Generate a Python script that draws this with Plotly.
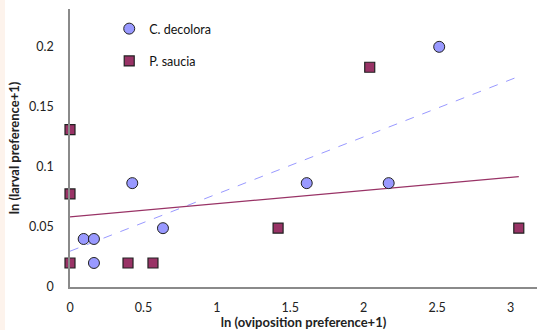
import numpy as np
import plotly.graph_objects as go

# C. decolora
dec_x = [0.093, 0.163, 0.163, 0.424, 0.633, 1.612, 2.170, 2.514]
dec_y = [0.040, 0.040, 0.020, 0.0865, 0.049, 0.0865, 0.0865, 0.200]
# P. saucia
sau_x = [0.0, 0.0, 0.0, 0.395, 0.565, 1.417, 2.041, 3.056]
sau_y = [0.0775, 0.020, 0.131, 0.020, 0.020, 0.049, 0.183, 0.049]

x_ticks = [0, 0.5, 1, 1.5, 2, 2.5, 3]
x_tick_labels = ["0", "0.5", "1", "1.5", "2", "2.5", "3"]
y_ticks = [0, 0.05, 0.1, 0.15, 0.2]
y_tick_labels = ["0", "0.05", "0.1", "0.15", "0.2"]

FONT = "Lato, 'Open Sans', sans-serif"

fit_x = np.array([0.0, max(max(dec_x), max(sau_x))])
d_m, d_b = np.polyfit(dec_x, dec_y, 1)
s_m, s_b = np.polyfit(sau_x, sau_y, 1)

fig = go.Figure()
fig.add_trace(go.Scatter(x=fit_x, y=d_m * fit_x + d_b, mode="lines",
                         line=dict(color="#9999FF", width=1, dash="dash"),
                         showlegend=False, hoverinfo="skip", cliponaxis=False))
fig.add_trace(go.Scatter(x=fit_x, y=s_m * fit_x + s_b, mode="lines",
                         line=dict(color="#993366", width=1.2),
                         showlegend=False, hoverinfo="skip", cliponaxis=False))
fig.add_trace(go.Scatter(x=dec_x, y=dec_y, mode="markers", name="C. decolora",
                         legendgroup="a", cliponaxis=False,
                         marker=dict(symbol="circle", size=11, color="#9999FF",
                                     line=dict(color="#222222", width=1))))
fig.add_trace(go.Scatter(x=sau_x, y=sau_y, mode="markers", name="P. saucia",
                         legendgroup="b", cliponaxis=False,
                         marker=dict(symbol="square", size=10, color="#993366",
                                     line=dict(color="#222222", width=1.2))))

fig.update_layout(
    width=537, height=330,
    margin=dict(l=70, r=0, t=9, b=43, autoexpand=False),
    paper_bgcolor="white", plot_bgcolor="white",
    font=dict(family=FONT, size=12.5, color="#222222"),
    legend=dict(x=0.084, y=0.982, xanchor="left", yanchor="top",
                bgcolor="rgba(0,0,0,0)", traceorder="grouped",
                tracegroupgap=13, itemwidth=30,
                font=dict(family=FONT, size=12.5, color="#111111")),
    xaxis=dict(range=[0, 3.18], tickvals=x_ticks, ticktext=x_tick_labels,
               showgrid=False, zeroline=False, showline=True, automargin=False,
               linecolor="#8a8a8a", linewidth=1.5, ticks="",
               ticklabelstandoff=8,
               title=dict(text="<b>ln (oviposition preference+1)</b>",
                          font=dict(family=FONT, size=13), standoff=4)),
    yaxis=dict(range=[0, 0.2315], tickvals=y_ticks, ticktext=y_tick_labels,
               showgrid=False, zeroline=False, showline=True, automargin=False,
               linecolor="#8a8a8a", linewidth=1.5, ticks="",
               ticklabelstandoff=12,
               title=dict(text="<b>ln (larval preference+1)</b>",
                          font=dict(family=FONT, size=13), standoff=6)),
    shapes=[dict(type="rect", xref="paper", yref="paper", x0=-0.1499, x1=-0.1392,
                 y0=-0.2, y1=1.05, fillcolor="#FDF3EC", line=dict(width=0),
                 layer="below")],
)

fig.write_html("out.html", config={"displayModeBar": False},
               post_script="document.body.style.margin='0px';")
